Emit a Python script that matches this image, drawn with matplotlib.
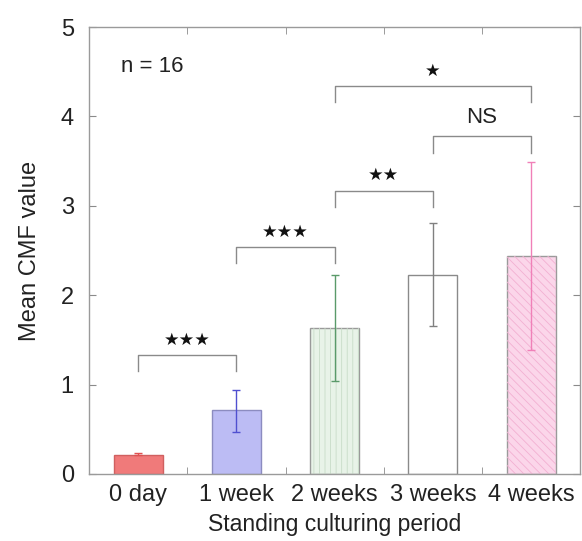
import matplotlib.pyplot as plt
from matplotlib.ticker import FixedLocator

# ---- data ----
periods = ['0 day', '1 week', '2 weeks', '3 weeks', '4 weeks']
means = [0.21, 0.72, 1.63, 2.23, 2.44]
err_low = [0.21, 0.47, 1.04, 1.66, 1.39]
err_high = [0.23, 0.94, 2.23, 2.81, 3.49]

# brackets: (left bar, right bar, bar height, leg bottom, label)
brackets = [(0, 1, 1.33, 1.15, '★★★'),
            (1, 2, 2.54, 2.36, '★★★'),
            (2, 3, 3.17, 2.99, '★★'),
            (3, 4, 3.78, 3.59, 'NS'),
            (2, 4, 4.34, 4.16, '★')]

fills = ['#f07a7a', '#bcbcf4', '#e8f3e8', '#ffffff', '#fbd6ea']
edges = ['#d06060', '#8c8cc0', '#9a9a9a', '#8a8a8a', '#9a9a9a']
hatches = [None, None, '|||', None, '\\\\\\\\']
hatch_cols = [None, None, '#c8dcc8', None, '#f2b0d2']
err_cols = ['#e05050', '#5050d0', '#5a9a6a', '#808080', '#f080b8']

plt.rcParams['font.family'] = ['Liberation Sans', 'DejaVu Sans']
plt.rcParams['hatch.linewidth'] = 0.6

fig = plt.figure(figsize=(5.82, 5.41), dpi=100)
ax = fig.add_axes([0.153, 0.124, 0.844, 0.826])

x = list(range(len(periods)))
for i in x:
    ax.bar(i, means[i], width=0.5, color=fills[i], edgecolor=edges[i], linewidth=1.0, zorder=2)
    if hatches[i]:
        ax.bar(i, means[i], width=0.5, color='none', edgecolor=hatch_cols[i],
               hatch=hatches[i], linewidth=0, zorder=2)
    ax.errorbar(i, means[i], yerr=[[means[i] - err_low[i]], [err_high[i] - means[i]]],
                fmt='none', ecolor=err_cols[i], elinewidth=1.0, capsize=3, capthick=1.0, zorder=3)

for a, b, top, leg, lab in brackets:
    ax.plot([a, a, b, b], [leg, top, top, leg], color='#8a8a8a', lw=1.0, zorder=3)
    if lab == 'NS':
        ax.text((a + b) / 2, top + 0.09, lab, ha='center', va='bottom', fontsize=16, color='#222222')
    else:
        ax.text((a + b) / 2, top + 0.07, lab, ha='center', va='bottom', fontsize=12.5,
                color='#111111', family=['DejaVu Sans'])

ax.text(0.14, 4.56, 'n = 16', ha='center', va='center', fontsize=16, color='#222222')

ax.set_xlim(-0.5, 4.5)
ax.set_ylim(0, 5)
ax.set_xticks(x)
ax.set_xticklabels(periods)
ax.xaxis.set_minor_locator(FixedLocator([0.5, 1.5, 2.5, 3.5]))
ax.set_yticks([0, 1, 2, 3, 4, 5])
ax.tick_params(axis='x', which='major', length=0, labelsize=17, pad=7, colors='#222222')
ax.tick_params(axis='x', which='minor', direction='in', length=5, top=True, bottom=True, color='#8a8a8a')
ax.tick_params(axis='y', direction='in', length=5, left=True, right=True, labelsize=17,
               color='#8a8a8a', labelcolor='#222222', pad=11)
for s in ax.spines.values():
    s.set_color('#9a9a9a')
    s.set_linewidth(1.0)

ax.set_xlabel('Standing culturing period', fontsize=16.5, color='#222222', labelpad=5)
ax.set_ylabel('Mean CMF value', fontsize=17, color='#222222', labelpad=14)

fig.savefig('out.png', dpi=100)
